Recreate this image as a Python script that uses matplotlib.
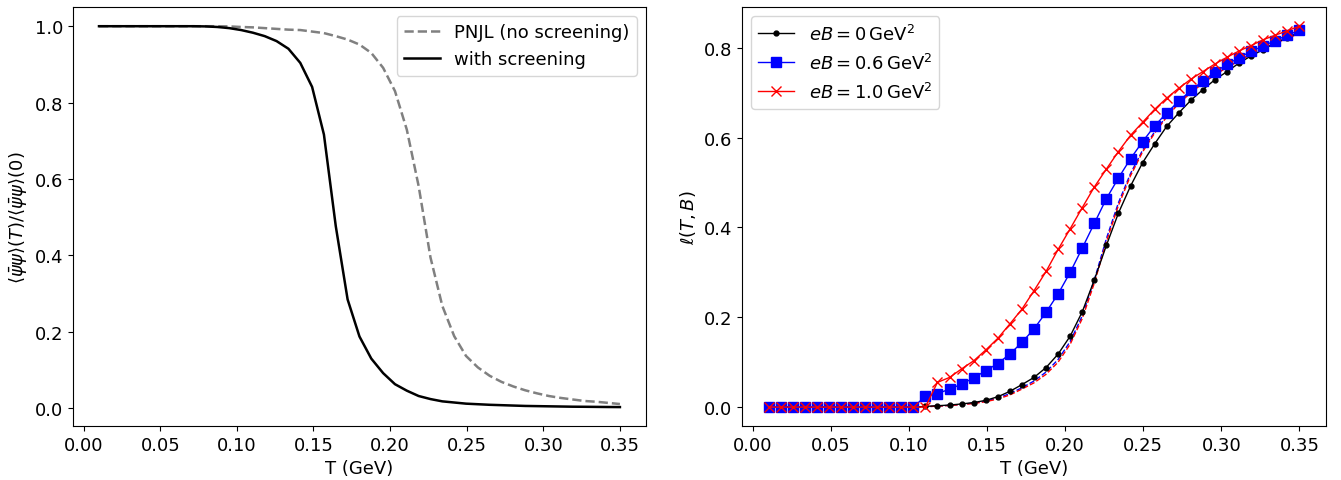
import numpy as np
import matplotlib
matplotlib.use('Agg')
import matplotlib.pyplot as plt

plt.rcParams['font.size'] = 13

# temperature grid (GeV), 45 points from 0.01 to 0.35
T = np.linspace(0.01, 0.35, 45)

# left panel: normalised chiral condensate
cond_pnjl = [1.0, 1.0, 1.0, 1.0, 1.0, 1.0, 1.0, 1.0, 1.0, 1.0,
             1.0, 0.9995, 0.998, 0.997, 0.995, 0.993, 0.991, 0.990, 0.986, 0.982,
             0.974, 0.965, 0.952, 0.930, 0.891, 0.830, 0.729, 0.581, 0.394, 0.267,
             0.188, 0.136, 0.106, 0.084, 0.068, 0.056, 0.046, 0.038, 0.031, 0.026,
             0.022, 0.018, 0.016, 0.013, 0.010]
cond_screen = [1.0, 1.0, 1.0, 1.0, 1.0, 1.0, 1.0, 1.0, 1.0, 0.9995,
               0.998, 0.995, 0.990, 0.983, 0.974, 0.961, 0.941, 0.904, 0.841, 0.716,
               0.476, 0.284, 0.187, 0.129, 0.091, 0.062, 0.045, 0.031, 0.023, 0.017,
               0.014, 0.011, 0.0095, 0.008, 0.007, 0.006, 0.005, 0.0045, 0.004, 0.0035,
               0.003, 0.0028, 0.0025, 0.0022, 0.002]

# right panel: Polyakov loop
zeros13 = [0.0] * 13
loop_b0 = zeros13 + [0.0015, 0.003, 0.0045, 0.007, 0.010, 0.015, 0.023, 0.035,
                     0.050, 0.066, 0.088, 0.118, 0.158, 0.212, 0.283, 0.360, 0.432,
                     0.492, 0.544, 0.586, 0.625, 0.655, 0.683, 0.707, 0.729, 0.747,
                     0.766, 0.782, 0.796, 0.811, 0.822, 0.835]
loop_b06 = zeros13 + [0.024, 0.030, 0.040, 0.051, 0.065, 0.081, 0.097, 0.118,
                      0.144, 0.174, 0.211, 0.252, 0.300, 0.354, 0.409, 0.464, 0.510,
                      0.553, 0.591, 0.626, 0.655, 0.681, 0.705, 0.726, 0.746, 0.763,
                      0.778, 0.792, 0.804, 0.816, 0.828, 0.839]
loop_b10 = zeros13 + [0.0, 0.055, 0.066, 0.085, 0.103, 0.127, 0.153, 0.185,
                      0.218, 0.259, 0.302, 0.351, 0.397, 0.444, 0.490, 0.530, 0.569,
                      0.605, 0.634, 0.663, 0.688, 0.710, 0.730, 0.747, 0.764, 0.779,
                      0.793, 0.805, 0.818, 0.828, 0.838, 0.848]
# same fields without screening (dashed)
loop_b06_ns = zeros13 + [0.001, 0.002, 0.004, 0.006, 0.009, 0.013, 0.020, 0.030,
                         0.043, 0.058, 0.078, 0.106, 0.146, 0.203, 0.283, 0.375, 0.455,
                         0.520, 0.572, 0.613, 0.648, 0.677, 0.701, 0.722, 0.741, 0.757,
                         0.772, 0.786, 0.799, 0.811, 0.822, 0.833]
loop_b10_ns = zeros13 + [0.001, 0.002, 0.0035, 0.0055, 0.008, 0.012, 0.018, 0.027,
                         0.040, 0.054, 0.073, 0.100, 0.140, 0.197, 0.276, 0.368, 0.449,
                         0.515, 0.568, 0.610, 0.646, 0.676, 0.700, 0.721, 0.740, 0.756,
                         0.771, 0.785, 0.798, 0.810, 0.821, 0.832]

fig = plt.figure(figsize=(13.41, 4.81), dpi=100)
ax1 = fig.add_axes([0.0544, 0.112, 0.4273, 0.871])
ax2 = fig.add_axes([0.5533, 0.112, 0.4355, 0.871])

ax1.plot(T, cond_pnjl, '--', color='gray', lw=1.8, label='PNJL (no screening)')
ax1.plot(T, cond_screen, '-', color='black', lw=1.8, label='with screening')
ax1.set_xlabel('T (GeV)')
ax1.set_ylabel(r'$\langle\bar{\psi}\psi\rangle(T)/\langle\bar{\psi}\psi\rangle(0)$')
ax1.legend(loc='upper right')

ax2.plot(T, loop_b06_ns, '--', color='blue', lw=1.0)
ax2.plot(T, loop_b10_ns, '--', color='red', lw=1.0)
ax2.plot(T, loop_b0, '-', color='black', marker='o', ms=3.5, lw=1.0,
         label=r'$eB = 0\,\mathrm{GeV}^2$')
ax2.plot(T, loop_b06, '-', color='blue', marker='s', ms=7, lw=1.0,
         label=r'$eB = 0.6\,\mathrm{GeV}^2$')
ax2.plot(T, loop_b10, '-', color='red', marker='x', ms=7, lw=1.0,
         label=r'$eB = 1.0\,\mathrm{GeV}^2$')
ax2.set_xlabel('T (GeV)')
ax2.set_ylabel(r'$\ell(T,B)$')
ax2.legend(loc='upper left')

fig.savefig('out.png', dpi=100)
